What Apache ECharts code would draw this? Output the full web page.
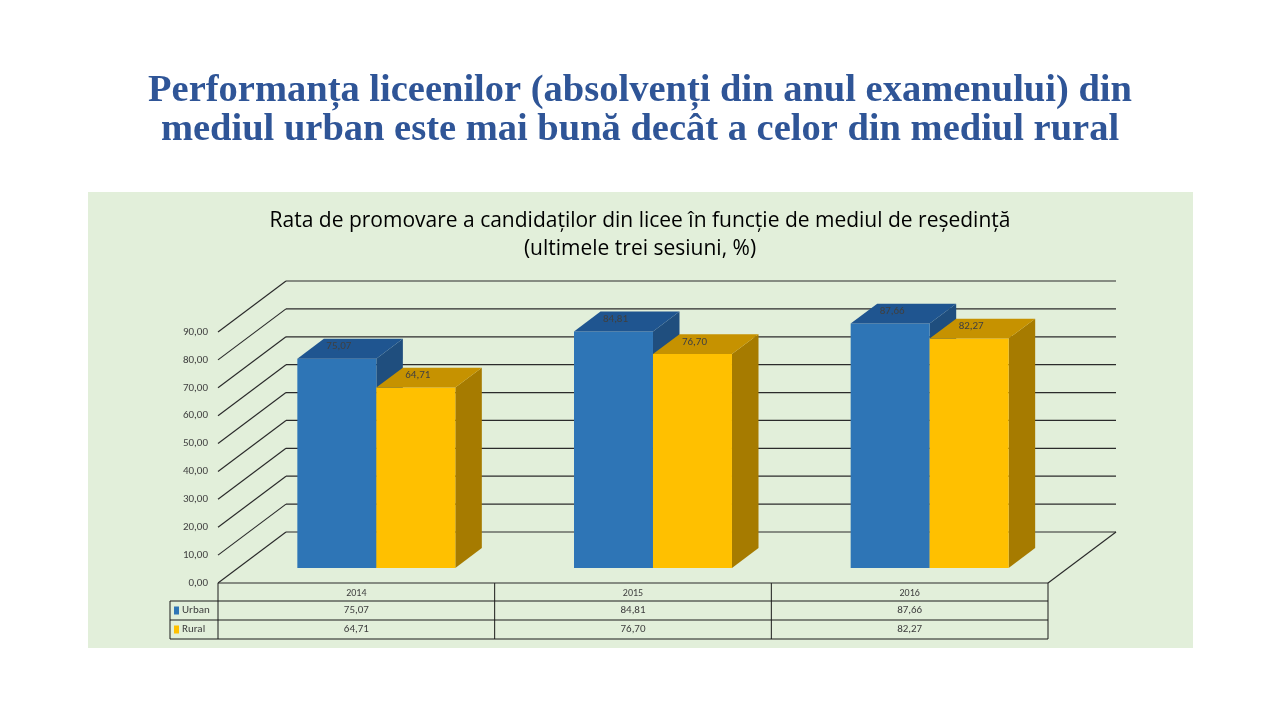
<!DOCTYPE html>
<html>
<head>
<meta charset="utf-8">
<script src="https://cdn.jsdelivr.net/npm/echarts@6/dist/echarts.min.js"></script>
<style>
  html, body { margin: 0; padding: 0; background: #fff; }
  #chart { width: 1280px; height: 720px; }
</style>
</head>
<body>
<div id="chart"></div>
<script>
// date
var years = ['2014', '2015', '2016'];
var urban = [75.07, 84.81, 87.66];
var rural = [64.71, 76.70, 82.27];
var yTicks = [0, 10, 20, 30, 40, 50, 60, 70, 80, 90];

// geometrie 3D (pixeli)
var GRID = { left: 218, top: 332, width: 830, height: 251 };
var DEPTH = [68, -51];      // adancimea podelei
var FRONT = 0.294;          // unde incepe bara in adancime
var BAR_DEPTH = 0.39;       // cat de adanca e bara
var BAR_W = 0.2855;         // latimea unei bare din banda categoriei

var font = 'Carlito, Lato, "Open Sans", sans-serif';

function fmt(v) {
  return v.toFixed(2).replace('.', ',');
}

function barRender(side, colors) {
  return function (params, api) {
    var cat = api.value(0);
    var val = api.value(1);
    var base = api.coord([cat, 0]);
    var top = api.coord([cat, val]);
    var bw = api.size([1, 0])[0] * BAR_W;
    var ox = DEPTH[0] * FRONT, oy = DEPTH[1] * FRONT;
    var dx = DEPTH[0] * BAR_DEPTH, dy = DEPTH[1] * BAR_DEPTH;
    var xl = (side < 0 ? base[0] - bw : base[0]) + ox;
    var xr = xl + bw;
    var yt = top[1] + oy;
    var yb = base[1] + oy;
    return {
      type: 'group',
      children: [
        {
          type: 'polygon',
          shape: { points: [[xr, yt], [xr + dx, yt + dy], [xr + dx, yb + dy], [xr, yb]] },
          style: { fill: colors[2] }
        },
        {
          type: 'rect',
          shape: { x: xl, y: yt, width: bw, height: yb - yt },
          style: { fill: colors[0] }
        },
        {
          type: 'polygon',
          shape: { points: [[xl, yt], [xr, yt], [xr + dx, yt + dy], [xl + dx, yt + dy]] },
          style: { fill: colors[1] }
        },
        {
          type: 'text',
          x: xl + bw / 2 + 2,
          y: yt - 12,
          style: {
            text: fmt(val), fill: '#404040', fontSize: 11, fontFamily: font,
            align: 'center', verticalAlign: 'middle'
          }
        }
      ]
    };
  };
}

function wallRender(params, api) {
  var cs = params.coordSys;
  var v = api.value(0);
  var y = api.coord([0, v])[1];
  var x0 = cs.x, x1 = cs.x + cs.width;
  var lineStyle = { stroke: '#2b2b2b', lineWidth: 1.2 };
  var children = [
    { type: 'line', shape: { x1: x0, y1: y, x2: x0 + DEPTH[0], y2: y + DEPTH[1] }, style: lineStyle },
    { type: 'line', shape: { x1: x0 + DEPTH[0], y1: y + DEPTH[1], x2: x1 + DEPTH[0], y2: y + DEPTH[1] }, style: lineStyle }
  ];
  if (v === 0) {
    children.push({ type: 'line', shape: { x1: x1, y1: y, x2: x1 + DEPTH[0], y2: y + DEPTH[1] }, style: lineStyle });
    children.push({ type: 'line', shape: { x1: x0, y1: y, x2: x1, y2: y }, style: lineStyle });
  }
  return { type: 'group', children: children };
}

// tabel de date sub grafic
function tableGraphics() {
  var g = [];
  var left = 170, x0 = GRID.left, x1 = GRID.left + GRID.width;
  var y0 = GRID.top + GRID.height;
  var rows = [y0, y0 + 18, y0 + 37, y0 + 56];
  var ls = { stroke: '#1a1a1a', lineWidth: 1 };
  for (var r = 1; r < rows.length; r++) {
    g.push({ type: 'line', shape: { x1: left, y1: rows[r], x2: x1, y2: rows[r] }, style: ls });
  }
  g.push({ type: 'line', shape: { x1: left, y1: rows[1], x2: left, y2: rows[3] }, style: ls });
  for (var c = 0; c <= years.length; c++) {
    var x = x0 + c * GRID.width / years.length;
    g.push({ type: 'line', shape: { x1: x, y1: rows[0], x2: x, y2: rows[3] }, style: ls });
  }
  var series = [['Urban', urban, '#2E75B6'], ['Rural', rural, '#FFC000']];
  series.forEach(function (s, i) {
    var ym = (rows[i + 1] + rows[i + 2]) / 2;
    g.push({ type: 'rect', shape: { x: left + 4, y: ym - 4, width: 5, height: 8 }, style: { fill: s[2] } });
    g.push({
      type: 'text', x: left + 12, y: ym,
      style: { text: s[0], fill: '#404040', fontSize: 11, fontFamily: font, verticalAlign: 'middle' }
    });
    s[1].forEach(function (v, j) {
      g.push({
        type: 'text', x: x0 + (j + 0.5) * GRID.width / years.length, y: ym,
        style: { text: fmt(v), fill: '#404040', fontSize: 11, fontFamily: font, align: 'center', verticalAlign: 'middle' }
      });
    });
  });
  return g;
}

var chart = echarts.init(document.getElementById('chart'));

var option = {
  backgroundColor: '#ffffff',
  animation: false,
  title: [
    {
      text: 'Performanța liceenilor (absolvenți din anul examenului) din\nmediul urban este mai bună decât a celor din mediul rural',
      left: 'center',
      top: 67,
      textStyle: {
        color: '#2F5597', fontSize: 38.5, lineHeight: 39,
        fontWeight: 'bold', fontFamily: '"Liberation Serif", "DejaVu Serif", serif'
      }
    },
    {
      text: 'Rata de promovare a candidaților din licee în funcție de mediul de reședință\n(ultimele trei sesiuni, %)',
      left: 'center',
      top: 202,
      textStyle: {
        color: '#000000', fontSize: 21, lineHeight: 28,
        fontWeight: 'normal', fontFamily: '"Open Sans", Lato, sans-serif'
      }
    }
  ],
  graphic: [
    {
      type: 'rect', z: -10, silent: true,
      shape: { x: 88, y: 192, width: 1105, height: 456 },
      style: { fill: '#E2EFDA' }
    }
  ].concat(tableGraphics()),
  grid: GRID,
  xAxis: {
    type: 'category',
    data: years,
    axisLine: { show: false },
    axisTick: { show: false },
    axisLabel: { color: '#404040', fontSize: 10, fontFamily: font, margin: 5 }
  },
  yAxis: {
    type: 'value',
    min: 0,
    max: 90,
    interval: 10,
    splitLine: { show: false },
    axisLine: { show: false },
    axisTick: { show: false },
    axisLabel: {
      color: '#404040', fontSize: 11, fontFamily: font, margin: 10,
      formatter: function (v) { return fmt(v); }
    }
  },
  series: [
    {
      name: 'walls',
      type: 'custom',
      z: 1,
      silent: true,
      data: yTicks.map(function (v) { return [v]; }),
      encode: { y: 0 },
      renderItem: wallRender
    },
    {
      name: 'Urban',
      type: 'custom',
      z: 2,
      data: urban.map(function (v, i) { return [i, v]; }),
      encode: { x: 0, y: 1 },
      renderItem: barRender(-1, ['#2E75B6', '#1F5590', '#1F4E7E'])
    },
    {
      name: 'Rural',
      type: 'custom',
      z: 3,
      data: rural.map(function (v, i) { return [i, v]; }),
      encode: { x: 0, y: 1 },
      renderItem: barRender(1, ['#FFC000', '#C69200', '#A67B00'])
    }
  ]
};

chart.setOption(option);
</script>
</body>
</html>
